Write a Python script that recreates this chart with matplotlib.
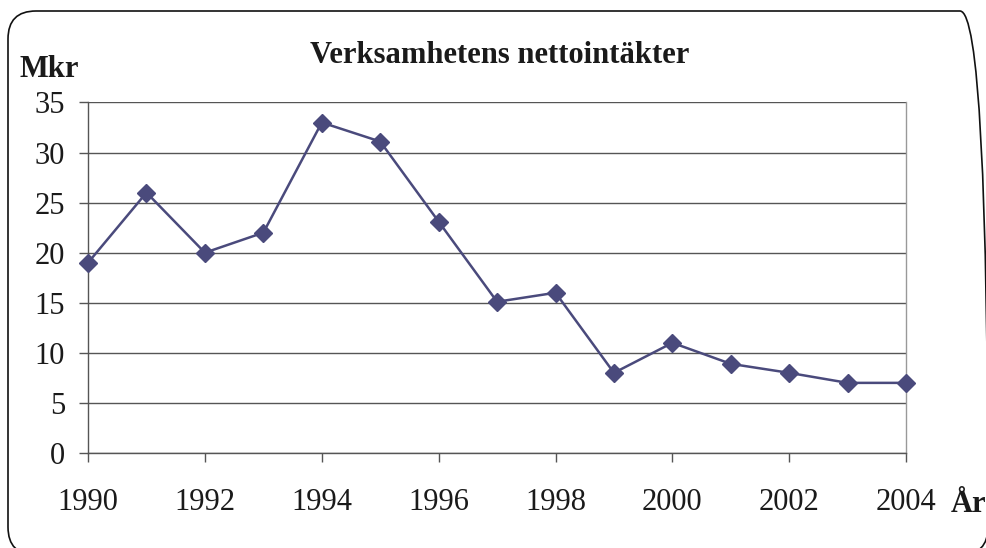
"""
Verksamhetens nettointäkter 1990-2004
"""
import matplotlib
matplotlib.use('Agg')
import matplotlib.pyplot as plt
from matplotlib.patches import FancyBboxPatch


# data
years = [1990, 1991, 1992, 1993, 1994, 1995, 1996, 1997,
         1998, 1999, 2000, 2001, 2002, 2003, 2004]
mkr = [19, 26, 20, 22, 33, 31.1, 23.1, 15.1,
       16, 8, 11, 8.9, 8, 7, 7]
x_ticks = [1990, 1992, 1994, 1996, 1998, 2000, 2002, 2004]
y_ticks = [0, 5, 10, 15, 20, 25, 30, 35]

title = 'Verksamhetens nettointäkter'
y_unit = 'Mkr'
x_unit = 'År'

LINE_COLOR = '#4a4a7c'
GRID_COLOR = '#555555'


def run():
    plt.rcParams['font.family'] = ['Liberation Serif', 'DejaVu Serif']

    fig = plt.figure(figsize=(9.86, 5.48), dpi=100)
    ax = fig.add_axes([0.0893, 0.1734, 0.919 - 0.0893, 0.813 - 0.1734])

    # rounded frame round the whole chart, in inches so corners stay round
    # (bottom and right edge run a bit off the picture like in the original)
    frame = FancyBboxPatch(
        (0.08, -0.07), 9.80, 5.44,
        boxstyle='round,pad=0,rounding_size=0.28',
        transform=fig.dpi_scale_trans, fill=False,
        edgecolor='#111111', linewidth=1.2)
    fig.patches.append(frame)

    ax.plot(years, mkr, color=LINE_COLOR, linewidth=1.8,
            marker='D', markersize=9, markeredgecolor=LINE_COLOR,
            markerfacecolor=LINE_COLOR, clip_on=False, zorder=3)

    ax.set_xlim(years[0], years[-1])
    ax.set_ylim(y_ticks[0], y_ticks[-1])
    ax.set_xticks(x_ticks)
    ax.set_yticks(y_ticks)
    ax.set_xticklabels([str(t) for t in x_ticks])

    # horizontal grid only
    ax.yaxis.grid(True, color=GRID_COLOR, linewidth=1.0)
    ax.set_axisbelow(True)

    for side in ['top', 'right', 'left', 'bottom']:
        ax.spines[side].set_color(GRID_COLOR)
        ax.spines[side].set_linewidth(1.0)
    ax.spines['top'].set_visible(False)
    ax.spines['right'].set_color('#999999')

    ax.tick_params(axis='both', direction='out', length=6.5,
                   width=1.0, color=GRID_COLOR,
                   labelsize=22, labelcolor='#1a1a1a')
    ax.tick_params(axis='y', pad=10)
    ax.tick_params(axis='x', pad=19)

    fig.text(500 / 986, 1 - 63 / 548, title, ha='center', va='baseline',
             fontsize=22, fontweight='bold', color='#1a1a1a')
    fig.text(20 / 986, 1 - 77 / 548, y_unit, ha='left', va='baseline',
             fontsize=22, fontweight='bold', color='#1a1a1a')
    fig.text(951 / 986, 1 - 512 / 548, x_unit, ha='left', va='baseline',
             fontsize=22, fontweight='bold', color='#1a1a1a')

    fig.savefig('out.png', dpi=100)


if __name__ == '__main__':
    run()
